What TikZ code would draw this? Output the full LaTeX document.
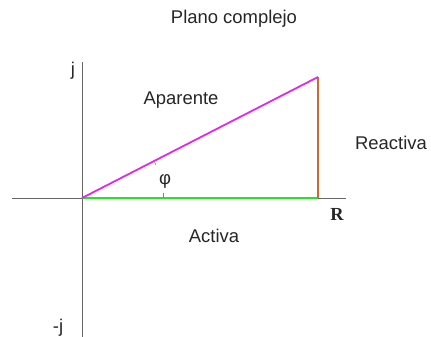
\documentclass[tikz,border=0pt]{standalone}
\usepackage{fontspec}
\setmainfont{Liberation Sans}
\newfontfamily\serifR{Liberation Serif}
\begin{document}
\begin{tikzpicture}[x=1bp,y=-1bp,
  axis/.style={draw=gray!80!black,line width=0.8bp},
  lab/.style={font=\fontsize{18.5}{21}\selectfont,inner sep=0pt,text=black!85},
  side/.style={line width=2.4bp}]
\useasboundingbox (0,0) rectangle (431,337);
\coordinate (O) at (82,198);
\coordinate (A) at (318,198);
\coordinate (B) at (318,77);
\coordinate (xl) at (12,198);
\coordinate (xr) at (346,198);
\coordinate (yt) at (82,62);
\coordinate (yb) at (82,337);
\draw[axis] (xl) -- (xr);
\draw[axis] (yt) -- (yb);
\draw[side,line width=2.8bp,draw={rgb,255:red,40;green,225;blue,40}] (O) -- (A);
\draw[side,draw={rgb,255:red,205;green,105;blue,50}] (A) -- (B);
\draw[side,line width=1.8bp,draw={rgb,255:red,225;green,40;blue,235}] (O) -- (B);
\coordinate (t1a) at (163,193); \coordinate (t1b) at (163,198);
\coordinate (t2a) at (154,161); \coordinate (t2b) at (156,165);
\draw[gray,line width=0.6bp] (t1a) -- (t1b);
\draw[gray,line width=0.6bp] (t2a) -- (t2b);
\node[lab] (title) at (234,19) {Plano complejo};
\node[lab] (j) at (73,71) {j};
\node[lab] (mj) at (58,328) {-j};
\node[lab] (ap) at (181,100) {Aparente};
\node[lab] (phi) at (165,181) {φ};
\node[lab] (re) at (391,143) {Reactiva};
\node[lab,font=\serifR\bfseries\fontsize{18.5}{21}\selectfont] (R) at (337,214) {R};
\node[lab] (ac) at (214,236) {Activa};
\end{tikzpicture}
\end{document}
